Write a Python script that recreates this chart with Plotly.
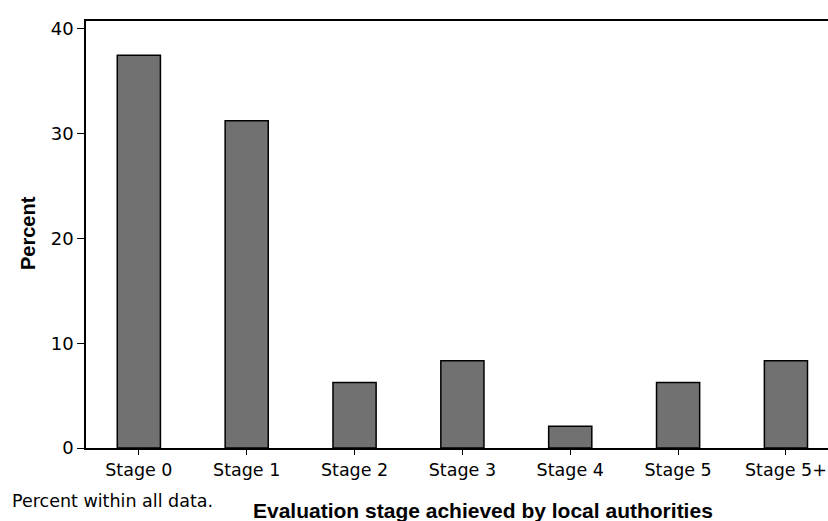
import plotly.graph_objects as go

categories = ["Stage 0", "Stage 1", "Stage 2", "Stage 3", "Stage 4", "Stage 5", "Stage 5+"]
percent = [37.5, 31.25, 6.25, 8.33, 2.08, 6.25, 8.33]
y_ticks = [0, 10, 20, 30, 40]

W, H = 828, 521
L, R, T, B = 86, 0, 21, 73
pw, ph = W - L - R, H - T - B

def px_x(p):
    return (p - L) / pw

def px_y(p):
    return (H - B - p) / ph

fig = go.Figure(go.Bar(
    x=list(range(len(categories))), y=percent, width=0.4,
    marker=dict(color="#717171", line=dict(color="#000000", width=1.5)),
))

fig.update_layout(
    width=W, height=H, margin=dict(l=L, r=R, t=T, b=B, autoexpand=False),
    plot_bgcolor="white", paper_bgcolor="white", showlegend=False,
    font=dict(family="DejaVu Sans", size=17, color="#000000"),
)
fig.update_xaxes(
    tickmode="array", tickvals=list(range(len(categories))), ticktext=categories,
    range=[-0.49, 6.39], showline=True, linecolor="#000000", linewidth=1.5,
    mirror=True, ticks="outside", ticklen=5, tickcolor="#000000", showgrid=False,
    zeroline=False, automargin=False, tickfont=dict(family="DejaVu Sans", size=17.5),
)
fig.update_yaxes(
    tickmode="array", tickvals=y_ticks, range=[0, 40.76], showline=True,
    linecolor="#000000", linewidth=1.5, ticks="outside", ticklen=7,
    tickcolor="#000000", showgrid=False, zeroline=False, automargin=False,
    tickfont=dict(family="DejaVu Sans", size=18),
)

fig.add_annotation(text="<b>Percent</b>", textangle=-90, xref="paper", yref="paper",
                   x=px_x(28), y=px_y(233), xanchor="center", yanchor="middle",
                   showarrow=False, font=dict(family="Liberation Sans", size=20))
fig.add_annotation(text="<b>Evaluation stage achieved by local authorities</b>",
                   xref="paper", yref="paper", x=px_x(483), y=px_y(510),
                   xanchor="center", yanchor="middle", showarrow=False,
                   font=dict(family="Liberation Sans", size=21))
fig.add_annotation(text="Percent within all data.", xref="paper", yref="paper",
                   x=px_x(10), y=px_y(501), xanchor="left", yanchor="middle",
                   showarrow=False, font=dict(family="DejaVu Sans", size=17.5))

fig.write_html(
    "out.html",
    config={"displayModeBar": False},
    post_script="document.body.style.margin='0';document.body.style.overflow='hidden';",
)
